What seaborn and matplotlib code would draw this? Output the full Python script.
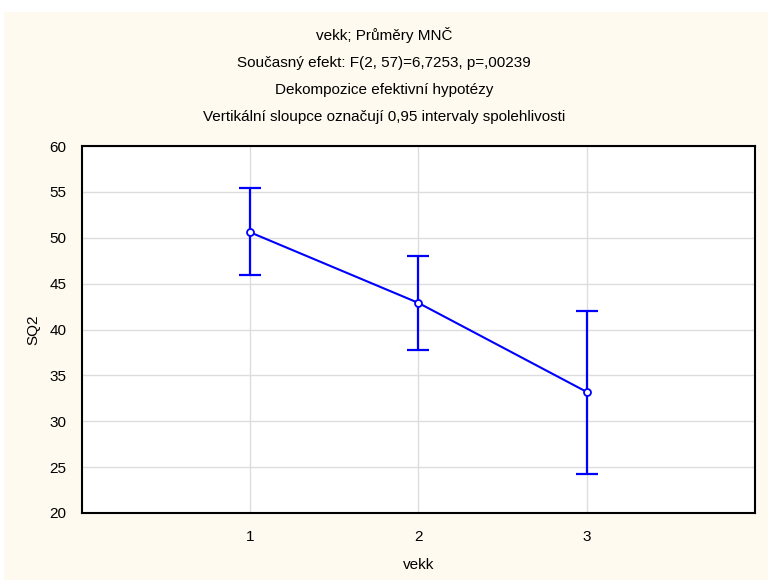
import matplotlib
matplotlib.use("Agg")
import matplotlib.pyplot as plt
from matplotlib.patches import Rectangle
import seaborn as sns
import pandas as pd

# Least-squares means of SQ2 by age group with 95% confidence limits
vekk = [1, 2, 3]
means = [50.6, 42.9, 33.2]
ci_low = [45.9, 37.8, 24.3]
ci_high = [55.4, 48.0, 42.0]
title_lines = [
    "vekk; Průměry MNČ",
    "Současný efekt: F(2, 57)=6,7253, p=,00239",
    "Dekompozice efektivní hypotézy",
    "Vertikální sloupce označují 0,95 intervaly spolehlivosti",
]

sns.set_theme(style="white")
plt.rcParams["font.family"] = ["Liberation Sans", "DejaVu Sans"]
plt.rcParams["text.color"] = "black"

df = pd.DataFrame({"vekk": vekk, "SQ2": means, "lo": ci_low, "hi": ci_high})

fig = plt.figure(figsize=(7.68, 5.80), dpi=100, facecolor="white")
fig.patches.append(Rectangle((4 / 768, 0), 1, (580 - 12) / 580,
                             transform=fig.transFigure, facecolor="#FFFAEF",
                             edgecolor="none", zorder=-10))
ax = fig.add_axes([81.7 / 768, (580 - 513) / 580, (755 - 81.7) / 768, (513 - 146) / 580])
ax.set_facecolor("white")

blue = "#0000FF"
ax.errorbar(df["vekk"], df["SQ2"],
            yerr=[df["SQ2"] - df["lo"], df["hi"] - df["SQ2"]],
            fmt="none", ecolor=blue, elinewidth=1.6, capsize=8, capthick=1.6, zorder=3)
sns.lineplot(data=df, x="vekk", y="SQ2", ax=ax, color=blue, linewidth=1.5,
             marker="o", markersize=5, markerfacecolor="white",
             markeredgecolor=blue, markeredgewidth=1.3, zorder=4)

ax.set_xlim(0, 4)
ax.set_ylim(20, 60)
ax.set_xticks(vekk)
ax.set_yticks(range(20, 61, 5))
ax.grid(True, color="#DDDDDD", linewidth=1.0)
ax.set_axisbelow(True)
for s in ax.spines.values():
    s.set_color("black")
    s.set_linewidth(1.5)
ax.tick_params(axis="both", direction="in", length=4, width=1, color="#444444",
               labelsize=11, labelcolor="black")
ax.tick_params(axis="x", pad=12)
ax.tick_params(axis="y", pad=11)
ax.set_xlabel("vekk", fontsize=11, color="black")
ax.set_ylabel("SQ2", fontsize=11, color="black")
ax.xaxis.set_label_coords(0.5, -0.142)
ax.yaxis.set_label_coords(-0.072, 0.5)
ax.xaxis.label.set_va("center")
ax.yaxis.label.set_va("center")

for i, line in enumerate(title_lines):
    fig.text(0.5, 1 - (35 + 27.5 * i) / 580, line, ha="center", va="center",
             fontsize=11, color="black")

fig.savefig("out.png", dpi=100, facecolor=fig.get_facecolor())
